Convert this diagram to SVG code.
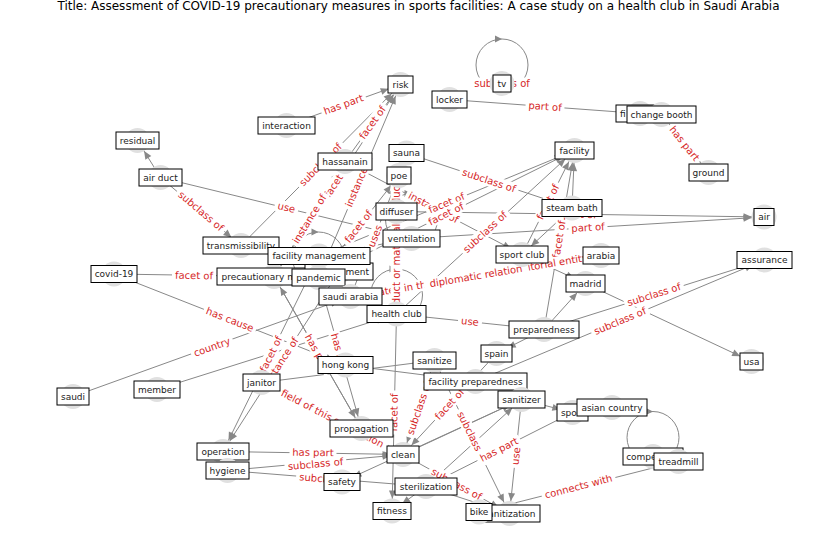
<svg xmlns="http://www.w3.org/2000/svg" width="837" height="559" viewBox="0 0 837 559">
<style>
.bg{fill:#fff}
.t{font-family:"DejaVu Sans",sans-serif;font-size:12px;fill:#000;text-anchor:middle}
.e line{stroke:#888;stroke-width:1;fill:none;marker-end:url(#a)}
.lp{stroke:#888;stroke-width:1;fill:none}
.ah{fill:#888}
.l rect{fill:#fff;stroke:none}
.l text{font-family:"DejaVu Sans",sans-serif;font-size:10px;fill:#d62728;text-anchor:middle;dominant-baseline:central}
.n circle{fill:#e0e0e0}
.n rect{fill:#fff;stroke:#000;stroke-width:1}
.n text{font-family:"DejaVu Sans",sans-serif;font-size:9px;fill:#222;text-anchor:middle;dominant-baseline:central}
</style>
<defs>
<marker id="a" markerUnits="userSpaceOnUse" orient="auto" overflow="visible" markerWidth="1" markerHeight="1" refX="0" refY="0">
<path d="M-20.5,-3.5 L-12.5,0 L-20.5,3.5 z" fill="#888"/>
</marker>
</defs>
<rect class="bg" width="837" height="559"/>
<text class="t" x="418.5" y="10">Title: Assessment of COVID-19 precautionary measures in sports facilities: A case study on a health club in Saudi Arabia</text>

<g id="connectors" class="e">
<line x1="286.5" y1="125.5" x2="400.5" y2="84.5"/>
<line x1="241" y1="245.5" x2="400.5" y2="84.5"/>
<line x1="345" y1="161.5" x2="400.5" y2="84.5"/>
<line x1="318.5" y1="277.5" x2="400.5" y2="84.5"/>
<line x1="274" y1="276.5" x2="400.5" y2="84.5"/>
<line x1="274" y1="276.5" x2="345" y2="161.5"/>
<line x1="160.5" y1="177.5" x2="137.5" y2="140.5"/>
<line x1="160.5" y1="177.5" x2="241" y2="245.5"/>
<line x1="160.5" y1="177.5" x2="411.5" y2="238.5"/>
<line x1="114" y1="274" x2="274" y2="276.5"/>
<line x1="114" y1="274" x2="345.5" y2="365"/>
<line x1="73" y1="396.5" x2="350.5" y2="296.5"/>
<line x1="157" y1="389.5" x2="396.5" y2="314"/>
<line x1="449.5" y1="99.5" x2="640" y2="113.5"/>
<line x1="661.5" y1="114.5" x2="708.5" y2="172.5"/>
<line x1="406.5" y1="153" x2="572" y2="208"/>
<line x1="345" y1="161.5" x2="522" y2="254.5"/>
<line x1="319" y1="256" x2="574.5" y2="150.5"/>
<line x1="318.5" y1="277.5" x2="574.5" y2="150.5"/>
<line x1="396.5" y1="314" x2="574.5" y2="150.5"/>
<line x1="522" y1="254.5" x2="574.5" y2="150.5"/>
<line x1="544" y1="329.5" x2="574.5" y2="150.5"/>
<line x1="572" y1="208" x2="574.5" y2="150.5"/>
<line x1="572" y1="208" x2="522" y2="254.5"/>
<line x1="411.5" y1="238.5" x2="764" y2="217"/>
<line x1="396.5" y1="211.5" x2="764" y2="217"/>
<line x1="350.5" y1="296.5" x2="601" y2="255.5"/>
<line x1="601" y1="255.5" x2="350.5" y2="296.5"/>
<line x1="522" y1="254.5" x2="585.5" y2="283.5"/>
<line x1="544" y1="329.5" x2="585.5" y2="283.5"/>
<line x1="585.5" y1="283.5" x2="751.5" y2="361.5"/>
<line x1="544" y1="329.5" x2="764.5" y2="260"/>
<line x1="475.5" y1="381.5" x2="764.5" y2="260"/>
<line x1="544" y1="329.5" x2="496.5" y2="353.5"/>
<line x1="396.5" y1="314" x2="544" y2="329.5"/>
<line x1="396.5" y1="314" x2="392" y2="511"/>
<line x1="396.5" y1="314" x2="396.5" y2="211.5"/>
<line x1="318.5" y1="277.5" x2="399" y2="175.5"/>
<line x1="350.5" y1="296.5" x2="399" y2="175.5"/>
<line x1="319" y1="256" x2="223" y2="451.5"/>
<line x1="339" y1="271.5" x2="223" y2="451.5"/>
<line x1="274" y1="276.5" x2="361.5" y2="428.5"/>
<line x1="318.5" y1="277.5" x2="361.5" y2="428.5"/>
<line x1="361.5" y1="428.5" x2="274" y2="276.5"/>
<line x1="261.5" y1="382.5" x2="403" y2="454.5"/>
<line x1="261.5" y1="382.5" x2="434.5" y2="360.5"/>
<line x1="345.5" y1="365" x2="475.5" y2="381.5"/>
<line x1="223" y1="451.5" x2="403" y2="454.5"/>
<line x1="227.5" y1="470.5" x2="403" y2="454.5"/>
<line x1="227.5" y1="470.5" x2="426" y2="486.5"/>
<line x1="521.5" y1="399.5" x2="342" y2="482"/>
<line x1="496.5" y1="353.5" x2="403" y2="454.5"/>
<line x1="434.5" y1="360.5" x2="403" y2="454.5"/>
<line x1="434.5" y1="360.5" x2="509.5" y2="513.5"/>
<line x1="521.5" y1="399.5" x2="509.5" y2="513.5"/>
<line x1="426" y1="486.5" x2="521.5" y2="399.5"/>
<line x1="572.5" y1="412.5" x2="426" y2="486.5"/>
<line x1="403" y1="454.5" x2="521.5" y2="399.5"/>
<line x1="403" y1="454.5" x2="509.5" y2="513.5"/>
<line x1="426" y1="486.5" x2="509.5" y2="513.5"/>
<line x1="426" y1="486.5" x2="392" y2="511"/>
<line x1="479" y1="512" x2="678.5" y2="461.5"/>
<line x1="521.5" y1="399.5" x2="572.5" y2="412.5"/>
<line x1="319" y1="256" x2="411.5" y2="238.5"/>
<circle class="lp" cx="502" cy="65" r="26"/>
<path class="ah" d="M495,35.5 L502,39 L495,42.5 z"/>
<circle class="lp" cx="318.5" cy="258" r="26"/>
<path class="ah" d="M311.5,228.5 L318.5,232 L311.5,235.5 z"/>
<circle class="lp" cx="396.5" cy="295" r="26"/>
<path class="ah" d="M389.5,265.5 L396.5,269 L389.5,272.5 z"/>
<circle class="lp" cx="411.5" cy="219.5" r="26"/>
<path class="ah" d="M404.5,190 L411.5,193.5 L404.5,197 z"/>
<circle class="lp" cx="653" cy="437.5" r="26"/>
<path class="ah" d="M646,408 L653,411.5 L646,415 z"/>
</g>

<g id="edge-labels" class="l">
<g transform="translate(343.5 104.5) rotate(-19.9)"><rect x="-23.5" y="-6" width="47" height="12" rx="3"/><text>has part</text></g>
<g transform="translate(320.5 164.5) rotate(-45.4)"><rect x="-31" y="-6" width="62" height="12" rx="3"/><text>subclass of</text></g>
<g transform="translate(372.5 122.5) rotate(-54.5)"><rect x="-22" y="-6" width="44" height="12" rx="3"/><text>facet of</text></g>
<g transform="translate(359 181) rotate(-67.1)"><rect x="-30.5" y="-6" width="61" height="12" rx="3"/><text>instance of</text></g>
<g transform="translate(337 180.5) rotate(-56.9)"><rect x="-22" y="-6" width="44" height="12" rx="3"/><text>facet of</text></g>
<g transform="translate(309.5 219) rotate(-58.5)"><rect x="-30.5" y="-6" width="61" height="12" rx="3"/><text>instance of</text></g>
<g transform="translate(201 211) rotate(40.4)"><rect x="-31" y="-6" width="62" height="12" rx="3"/><text>subclass of</text></g>
<g transform="translate(286.5 207.5) rotate(13.7)"><rect x="-12" y="-6" width="24" height="12" rx="3"/><text>use</text></g>
<g transform="translate(194 275.5) rotate(1.1)"><rect x="-22" y="-6" width="44" height="12" rx="3"/><text>facet of</text></g>
<g transform="translate(230 319.5) rotate(21.4)"><rect x="-28" y="-6" width="56" height="12" rx="3"/><text>has cause</text></g>
<g transform="translate(212 347) rotate(-19.8)"><rect x="-22" y="-6" width="44" height="12" rx="3"/><text>country</text></g>
<g transform="translate(545 106.5) rotate(3.9)"><rect x="-19.5" y="-6" width="39" height="12" rx="3"/><text>part of</text></g>
<g transform="translate(684.5 143.5) rotate(51.5)"><rect x="-23.5" y="-6" width="47" height="12" rx="3"/><text>has part</text></g>
<g transform="translate(489 180.5) rotate(18.3)"><rect x="-31" y="-6" width="62" height="12" rx="3"/><text>subclass of</text></g>
<g transform="translate(433.5 207.5) rotate(27.7)"><rect x="-30.5" y="-6" width="61" height="12" rx="3"/><text>instance of</text></g>
<g transform="translate(446.5 203) rotate(-22.6)"><rect x="-22" y="-6" width="44" height="12" rx="3"/><text>facet of</text></g>
<g transform="translate(446 214) rotate(-26.6)"><rect x="-22" y="-6" width="44" height="12" rx="3"/><text>facet of</text></g>
<g transform="translate(485 232) rotate(-42.7)"><rect x="-31" y="-6" width="62" height="12" rx="3"/><text>subclass of</text></g>
<g transform="translate(548 202) rotate(-63.4)"><rect x="-22" y="-6" width="44" height="12" rx="3"/><text>facet of</text></g>
<g transform="translate(559 239.5) rotate(-80.5)"><rect x="-22" y="-6" width="44" height="12" rx="3"/><text>facet of</text></g>
<g transform="translate(588 227.5) rotate(-3.4)"><rect x="-19.5" y="-6" width="39" height="12" rx="3"/><text>part of</text></g>
<g transform="translate(580 214.5) rotate(0.8)"><rect x="-19.5" y="-6" width="39" height="12" rx="3"/><text>part of</text></g>
<g transform="translate(476 276) rotate(-9.5)"><rect x="-116.5" y="-6" width="233" height="12" rx="3"/><text>located in the administrative territorial entity</text></g>
<g transform="translate(476 276) rotate(-9.5)"><rect x="-53" y="-6" width="106" height="12" rx="3"/><text>diplomatic relation</text></g>
<g transform="translate(654 294.5) rotate(-17.4)"><rect x="-31" y="-6" width="62" height="12" rx="3"/><text>subclass of</text></g>
<g transform="translate(620 321) rotate(-23)"><rect x="-31" y="-6" width="62" height="12" rx="3"/><text>subclass of</text></g>
<g transform="translate(470 321.5) rotate(5.8)"><rect x="-12" y="-6" width="24" height="12" rx="3"/><text>use</text></g>
<g transform="translate(394 412.5) rotate(-88.8)"><rect x="-22" y="-6" width="44" height="12" rx="3"/><text>facet of</text></g>
<g transform="translate(396.5 247) rotate(-90)"><rect x="-77.5" y="-6" width="155" height="12" rx="3"/><text>product or material produced</text></g>
<g transform="translate(358.5 226.5) rotate(-51.8)"><rect x="-22" y="-6" width="44" height="12" rx="3"/><text>facet of</text></g>
<g transform="translate(375 236) rotate(-68.5)"><rect x="-14.5" y="-6" width="29" height="12" rx="3"/><text>uses</text></g>
<g transform="translate(271 354) rotate(-64)"><rect x="-22" y="-6" width="44" height="12" rx="3"/><text>facet of</text></g>
<g transform="translate(281 361.5) rotate(-57.3)"><rect x="-30.5" y="-6" width="61" height="12" rx="3"/><text>instance of</text></g>
<g transform="translate(318 353) rotate(59.9)"><rect x="-23.5" y="-6" width="47" height="12" rx="3"/><text>has part</text></g>
<g transform="translate(340 353.5) rotate(73.8)"><rect x="-23.5" y="-6" width="47" height="12" rx="3"/><text>has part</text></g>
<g transform="translate(332.5 418.5) rotate(27.4)"><rect x="-62" y="-6" width="124" height="12" rx="3"/><text>field of this occupation</text></g>
<g transform="translate(313 452.5) rotate(1)"><rect x="-23.5" y="-6" width="47" height="12" rx="3"/><text>has part</text></g>
<g transform="translate(315.5 464) rotate(-5.2)"><rect x="-31" y="-6" width="62" height="12" rx="3"/><text>subclass of</text></g>
<g transform="translate(327 479) rotate(4.6)"><rect x="-31" y="-6" width="62" height="12" rx="3"/><text>subclass of</text></g>
<g transform="translate(449.5 404) rotate(-47.6)"><rect x="-22" y="-6" width="44" height="12" rx="3"/><text>facet of</text></g>
<g transform="translate(419 408) rotate(-71.2)"><rect x="-31" y="-6" width="62" height="12" rx="3"/><text>subclass of</text></g>
<g transform="translate(472.5 437) rotate(63.7)"><rect x="-31" y="-6" width="62" height="12" rx="3"/><text>subclass of</text></g>
<g transform="translate(516 456) rotate(-84)"><rect x="-12" y="-6" width="24" height="12" rx="3"/><text>use</text></g>
<g transform="translate(499 449.5) rotate(-27.2)"><rect x="-23.5" y="-6" width="47" height="12" rx="3"/><text>has part</text></g>
<g transform="translate(456.5 484) rotate(28.5)"><rect x="-31" y="-6" width="62" height="12" rx="3"/><text>subclass of</text></g>
<g transform="translate(578.5 486.5) rotate(-14.4)"><rect x="-38" y="-6" width="76" height="12" rx="3"/><text>connects with</text></g>
<g transform="translate(502 83.5)"><rect x="-31" y="-6" width="62" height="12" rx="3"/><text>subclass of</text></g>
</g>

<g id="n-precautionary-measure" class="n"><circle cx="274" cy="276.5" r="12.5"/><rect x="217" y="268" width="114" height="17"/><text x="274" y="276.5">precautionary measure</text></g>
<g id="n-ment" class="n"><circle cx="339" cy="271.5" r="12.5"/><rect x="305" y="263" width="68" height="17"/><text x="369" y="271.5" style="text-anchor:end">ment</text></g>
<g id="n-transmissibility" class="n"><circle cx="241" cy="245.5" r="12.5"/><rect x="203" y="237" width="76" height="17"/><text x="241" y="245.5">transmissibility</text></g>
<g id="n-facility-management" class="n"><circle cx="319" cy="256" r="12.5"/><rect x="268" y="247.5" width="102" height="17"/><text x="319" y="256">facility management</text></g>
<g id="n-pandemic" class="n"><circle cx="318.5" cy="277.5" r="12.5"/><rect x="292" y="269" width="53" height="17"/><text x="318.5" y="277.5">pandemic</text></g>
<g id="n-risk" class="n"><circle cx="400.5" cy="84.5" r="12.5"/><rect x="388" y="76" width="25" height="17"/><text x="400.5" y="84.5">risk</text></g>
<g id="n-interaction" class="n"><circle cx="286.5" cy="125.5" r="12.5"/><rect x="258" y="117" width="57" height="17"/><text x="286.5" y="125.5">interaction</text></g>
<g id="n-residual" class="n"><circle cx="137.5" cy="140.5" r="12.5"/><rect x="116" y="132" width="43" height="17"/><text x="137.5" y="140.5">residual</text></g>
<g id="n-air-duct" class="n"><circle cx="160.5" cy="177.5" r="12.5"/><rect x="139" y="169" width="43" height="17"/><text x="160.5" y="177.5">air duct</text></g>
<g id="n-hassanain" class="n"><circle cx="345" cy="161.5" r="12.5"/><rect x="318" y="153" width="54" height="17"/><text x="345" y="161.5">hassanain</text></g>
<g id="n-sauna" class="n"><circle cx="406.5" cy="153" r="12.5"/><rect x="389" y="144.5" width="35" height="17"/><text x="406.5" y="153">sauna</text></g>
<g id="n-poe" class="n"><circle cx="399" cy="175.5" r="12.5"/><rect x="387" y="167" width="24" height="17"/><text x="399" y="175.5">poe</text></g>
<g id="n-tv" class="n"><circle cx="502" cy="83.5" r="12.5"/><rect x="493" y="75" width="18" height="17"/><text x="502" y="83.5">tv</text></g>
<g id="n-locker" class="n"><circle cx="449.5" cy="99.5" r="12.5"/><rect x="432" y="91" width="35" height="17"/><text x="449.5" y="99.5">locker</text></g>
<g id="n-fi" class="n"><circle cx="640" cy="113.5" r="12.5"/><rect x="616" y="105" width="48" height="17"/><text x="620" y="113.5" style="text-anchor:start">fi</text></g>
<g id="n-change-booth" class="n"><circle cx="661.5" cy="114.5" r="12.5"/><rect x="627" y="106" width="69" height="17"/><text x="661.5" y="114.5">change booth</text></g>
<g id="n-ground" class="n"><circle cx="708.5" cy="172.5" r="12.5"/><rect x="689" y="164" width="39" height="17"/><text x="708.5" y="172.5">ground</text></g>
<g id="n-facility" class="n"><circle cx="574.5" cy="150.5" r="12.5"/><rect x="555" y="142" width="39" height="17"/><text x="574.5" y="150.5">facility</text></g>
<g id="n-diffuser" class="n"><circle cx="396.5" cy="211.5" r="12.5"/><rect x="376" y="203" width="41" height="17"/><text x="396.5" y="211.5">diffuser</text></g>
<g id="n-ventilation" class="n"><circle cx="411.5" cy="238.5" r="12.5"/><rect x="383" y="230" width="57" height="17"/><text x="411.5" y="238.5">ventilation</text></g>
<g id="n-steam-bath" class="n"><circle cx="572" cy="208" r="12.5"/><rect x="542" y="199.5" width="60" height="17"/><text x="572" y="208">steam bath</text></g>
<g id="n-sport-club" class="n"><circle cx="522" cy="254.5" r="12.5"/><rect x="496" y="246" width="52" height="17"/><text x="522" y="254.5">sport club</text></g>
<g id="n-arabia" class="n"><circle cx="601" cy="255.5" r="12.5"/><rect x="583" y="247" width="36" height="17"/><text x="601" y="255.5">arabia</text></g>
<g id="n-madrid" class="n"><circle cx="585.5" cy="283.5" r="12.5"/><rect x="566" y="275" width="39" height="17"/><text x="585.5" y="283.5">madrid</text></g>
<g id="n-air" class="n"><circle cx="764" cy="217" r="12.5"/><rect x="754" y="208.5" width="20" height="17"/><text x="764" y="217">air</text></g>
<g id="n-assurance" class="n"><circle cx="764.5" cy="260" r="12.5"/><rect x="737" y="251.5" width="55" height="17"/><text x="764.5" y="260">assurance</text></g>
<g id="n-preparedness" class="n"><circle cx="544" cy="329.5" r="12.5"/><rect x="509" y="321" width="70" height="17"/><text x="544" y="329.5">preparedness</text></g>
<g id="n-spain" class="n"><circle cx="496.5" cy="353.5" r="12.5"/><rect x="481" y="345" width="31" height="17"/><text x="496.5" y="353.5">spain</text></g>
<g id="n-usa" class="n"><circle cx="751.5" cy="361.5" r="12.5"/><rect x="740" y="353" width="23" height="17"/><text x="751.5" y="361.5">usa</text></g>
<g id="n-covid-19" class="n"><circle cx="114" cy="274" r="12.5"/><rect x="91" y="265.5" width="46" height="17"/><text x="114" y="274">covid-19</text></g>
<g id="n-saudi-arabia" class="n"><circle cx="350.5" cy="296.5" r="12.5"/><rect x="319" y="288" width="63" height="17"/><text x="350.5" y="296.5">saudi arabia</text></g>
<g id="n-health-club" class="n"><circle cx="396.5" cy="314" r="12.5"/><rect x="367" y="305.5" width="59" height="17"/><text x="396.5" y="314">health club</text></g>
<g id="n-hong-kong" class="n"><circle cx="345.5" cy="365" r="12.5"/><rect x="318" y="356.5" width="55" height="17"/><text x="345.5" y="365">hong kong</text></g>
<g id="n-sanitize" class="n"><circle cx="434.5" cy="360.5" r="12.5"/><rect x="413" y="352" width="43" height="17"/><text x="434.5" y="360.5">sanitize</text></g>
<g id="n-janitor" class="n"><circle cx="261.5" cy="382.5" r="12.5"/><rect x="243" y="374" width="37" height="17"/><text x="261.5" y="382.5">janitor</text></g>
<g id="n-member" class="n"><circle cx="157" cy="389.5" r="12.5"/><rect x="134" y="381" width="46" height="17"/><text x="157" y="389.5">member</text></g>
<g id="n-saudi" class="n"><circle cx="73" cy="396.5" r="12.5"/><rect x="57" y="388" width="32" height="17"/><text x="73" y="396.5">saudi</text></g>
<g id="n-propagation" class="n"><circle cx="361.5" cy="428.5" r="12.5"/><rect x="330" y="420" width="63" height="17"/><text x="361.5" y="428.5">propagation</text></g>
<g id="n-operation" class="n"><circle cx="223" cy="451.5" r="12.5"/><rect x="197" y="443" width="52" height="17"/><text x="223" y="451.5">operation</text></g>
<g id="n-hygiene" class="n"><circle cx="227.5" cy="470.5" r="12.5"/><rect x="206" y="462" width="43" height="17"/><text x="227.5" y="470.5">hygiene</text></g>
<g id="n-clean" class="n"><circle cx="403" cy="454.5" r="12.5"/><rect x="387" y="446" width="32" height="17"/><text x="403" y="454.5">clean</text></g>
<g id="n-safety" class="n"><circle cx="342" cy="482" r="12.5"/><rect x="324" y="473.5" width="36" height="17"/><text x="342" y="482">safety</text></g>
<g id="n-sterilization" class="n"><circle cx="426" cy="486.5" r="12.5"/><rect x="395" y="478" width="62" height="17"/><text x="426" y="486.5">sterilization</text></g>
<g id="n-fitness" class="n"><circle cx="392" cy="511" r="12.5"/><rect x="373" y="502.5" width="38" height="17"/><text x="392" y="511">fitness</text></g>
<g id="n-sanitization" class="n"><circle cx="509.5" cy="513.5" r="12.5"/><rect x="479" y="505" width="61" height="17"/><text x="509.5" y="513.5">sanitization</text></g>
<g id="n-bike" class="n"><circle cx="479" cy="512" r="12.5"/><rect x="466" y="503.5" width="26" height="17"/><text x="479" y="512">bike</text></g>
<g id="n-facility-preparedness" class="n"><circle cx="475.5" cy="381.5" r="12.5"/><rect x="424" y="373" width="103" height="17"/><text x="475.5" y="381.5">facility preparedness</text></g>
<g id="n-sanitizer" class="n"><circle cx="521.5" cy="399.5" r="12.5"/><rect x="498" y="391" width="47" height="17"/><text x="521.5" y="399.5">sanitizer</text></g>
<g id="n-sport" class="n"><circle cx="572.5" cy="412.5" r="12.5"/><rect x="557" y="404" width="31" height="17"/><text x="572.5" y="412.5">sport</text></g>
<g id="n-asian-country" class="n"><circle cx="612" cy="407.5" r="12.5"/><rect x="577" y="399" width="70" height="17"/><text x="612" y="407.5">asian country</text></g>
<g id="n-competition" class="n"><circle cx="653" cy="456.5" r="12.5"/><rect x="623" y="448" width="60" height="17"/><text x="653" y="456.5">competition</text></g>
<g id="n-treadmill" class="n"><circle cx="678.5" cy="461.5" r="12.5"/><rect x="654" y="453" width="49" height="17"/><text x="678.5" y="461.5">treadmill</text></g>
</svg>
